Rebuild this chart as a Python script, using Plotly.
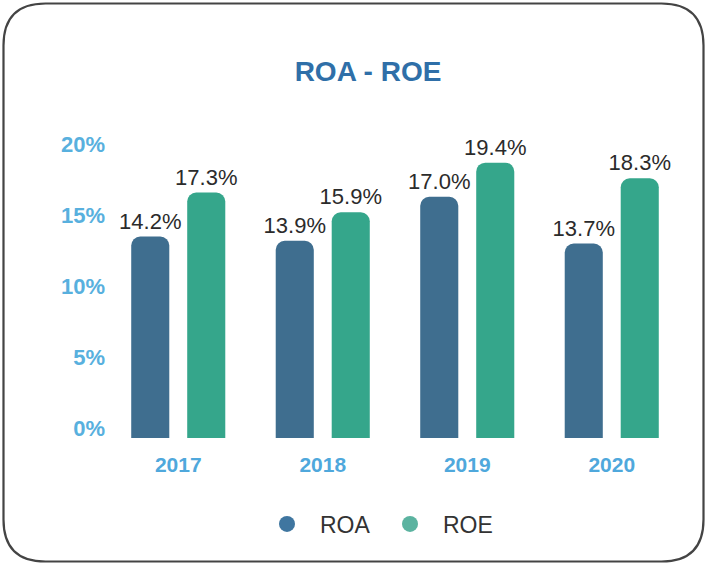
import plotly.graph_objects as go

years = ["2017", "2018", "2019", "2020"]
roa = [14.2, 13.9, 17.0, 13.7]
roe = [17.3, 15.9, 19.4, 18.3]
y_ticks = [0, 5, 10, 15, 20]
y_tick_labels = ["0%", "5%", "10%", "15%", "20%"]

W, H = 707, 565
ML, MR, MT, MB = 106, 23, 140, 127
PW, PH = W - ML - MR, H - MT - MB

ROA_COLOR = "#3f6e8f"
ROE_COLOR = "#35a68b"
FONT = "Liberation Sans, Arial, sans-serif"

fig = go.Figure()
fig.add_trace(go.Bar(
    x=years, y=roa, name="ROA", showlegend=False,
    marker=dict(color=ROA_COLOR, line=dict(width=0)),
    text=[f"{v:.1f}%" for v in roa], textposition="outside",
    constraintext="none", textangle=0,
    textfont=dict(family=FONT, size=22, color="#2b2b2b"),
    cliponaxis=False,
))
fig.add_trace(go.Bar(
    x=years, y=roe, name="ROE", showlegend=False,
    marker=dict(color=ROE_COLOR, line=dict(width=0)),
    text=[f"{v:.1f}%" for v in roe], textposition="outside",
    constraintext="none", textangle=0,
    textfont=dict(family=FONT, size=22, color="#2b2b2b"),
    cliponaxis=False,
))
# legend entries as circles
fig.add_trace(go.Scatter(x=[None], y=[None], mode="markers", name="ROA",
                         marker=dict(symbol="circle", size=24, color="#3f76a0")))
fig.add_trace(go.Scatter(x=[None], y=[None], mode="markers", name="ROE",
                         marker=dict(symbol="circle", size=24, color="#5bb3a0")))


def px_to_paper(px, py):
    return (px - ML) / PW, (H - MB - py) / PH


def rounded_path(x0, y0, x1, y1, r):
    pts = [
        ("M", [(x0 + r, y0)]),
        ("L", [(x1 - r, y0)]),
        ("Q", [(x1, y0), (x1, y0 + r)]),
        ("L", [(x1, y1 - r)]),
        ("Q", [(x1, y1), (x1 - r, y1)]),
        ("L", [(x0 + r, y1)]),
        ("Q", [(x0, y1), (x0, y1 - r)]),
        ("L", [(x0, y0 + r)]),
        ("Q", [(x0, y0), (x0 + r, y0)]),
    ]
    out = []
    for cmd, ps in pts:
        coords = " ".join("%.5f,%.5f" % px_to_paper(a, b) for a, b in ps)
        out.append(f"{cmd} {coords}")
    return " ".join(out) + " Z"


fig.add_shape(type="path", xref="paper", yref="paper",
              path=rounded_path(3.5, 3.5, 703.5, 561.5, 42),
              line=dict(color="#444444", width=2.2), layer="below")

fig.update_layout(
    width=W, height=H,
    margin=dict(l=ML, r=MR, t=MT, b=MB),
    paper_bgcolor="white", plot_bgcolor="white",
    barmode="group", bargap=0.225, bargroupgap=0.32,
    barcornerradius=9,
    title=dict(text="<b>ROA - ROE</b>", x=368 / W, xanchor="center",
               y=1 - 71 / H, yanchor="middle",
               font=dict(family=FONT, size=28, color="#2f6fa8")),
    font=dict(family=FONT),
    showlegend=True,
    legend=dict(orientation="h", x=(377 - ML) / PW, xanchor="center",
                y=(H - MB - 524) / PH, yanchor="middle",
                font=dict(family=FONT, size=23, color="#333333"),
                itemwidth=56, entrywidth=52, bgcolor="rgba(0,0,0,0)"),
    xaxis=dict(showgrid=False, zeroline=False, showline=False, ticks="",
               tickfont=dict(family=FONT, size=21, color="#4fa8dc", weight="bold"),
               ticklabelstandoff=12),
    yaxis=dict(range=[0, 21], showgrid=False, zeroline=False, showline=False,
               ticks="", tickvals=y_ticks, ticktext=y_tick_labels,
               tickfont=dict(family=FONT, size=22, color="#58b0de", weight="bold"),
               ticklabelshift=-10, ticklabelstandoff=0),
)

fig.write_html("out.html", config={"displayModeBar": False},
               post_script="document.body.style.margin='0';document.body.style.overflow='hidden';")
